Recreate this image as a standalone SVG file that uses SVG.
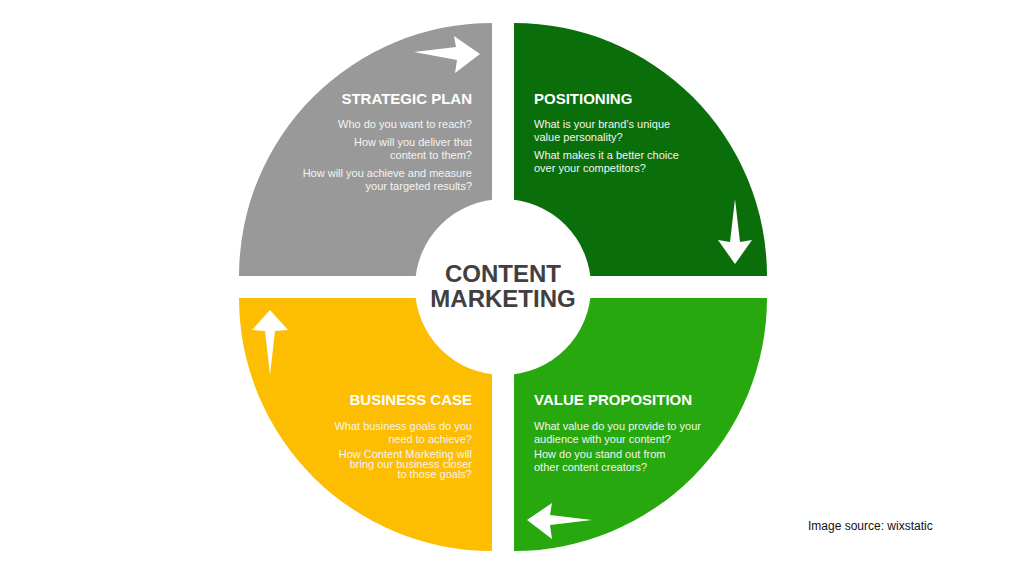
<svg xmlns="http://www.w3.org/2000/svg" width="1024" height="576" viewBox="0 0 1024 576">
<style>
text{font-family:"Liberation Sans",Arial,sans-serif;}
.t{font-size:15px;font-weight:bold;fill:#fff}
.b{font-size:11px;fill:#f4f4f4}
.c{font-size:24px;font-weight:bold;fill:#404040}
.a{fill:#fff}
</style>
<rect width="1024" height="576" fill="#fff"/>
<g id="strategic-plan">
<path d="M492 276 L239 276 A253 253 0 0 1 492 23 Z" fill="#999"/>
<polygon class="a" points="414,52 456,47 454,36 480,54 455,73 457,60"/>
<text class="t" x="472" y="104" text-anchor="end">STRATEGIC PLAN</text>
<g class="b" text-anchor="end"><text x="472" y="128">Who do you want to reach?</text><text x="472" y="146">How will you deliver that</text><text x="472" y="159">content to them?</text><text x="472" y="177">How will you achieve and measure</text><text x="472" y="190">your targeted results?</text></g>
</g>
<g id="positioning">
<path d="M514 276 L514 23 A253 253 0 0 1 767 276 Z" fill="#0a6e0a"/>
<polygon class="a" points="735,199 740,242 752,240 735,264 718,240 730,242"/>
<text class="t" x="534" y="104">POSITIONING</text>
<g class="b"><text x="534" y="128">What is your brand’s unique</text><text x="534" y="141">value personality?</text><text x="534" y="159">What makes it a better choice</text><text x="534" y="172">over your competitors?</text></g>
</g>
<g id="business-case">
<path d="M492 298 L492 551 A253 253 0 0 1 239 298 Z" fill="#fdbd00"/>
<polygon class="a" points="270,375 265,331 252,330 270,310 288,330 275,331"/>
<text class="t" x="472" y="405" text-anchor="end">BUSINESS CASE</text>
<g class="b" text-anchor="end"><text x="472" y="430">What business goals do you</text><text x="472" y="443">need to achieve?</text><text x="472" y="458">How Content Marketing will</text><text x="472" y="468">bring our business closer</text><text x="472" y="478">to those goals?</text></g>
</g>
<g id="value-proposition">
<path d="M514 298 L767 298 A253 253 0 0 1 514 551 Z" fill="#26a80e"/>
<polygon class="a" points="592,520 550,525 552,539 527,520 552,503 550,515"/>
<text class="t" x="534" y="405">VALUE PROPOSITION</text>
<g class="b"><text x="534" y="430">What value do you provide to your</text><text x="534" y="443">audience with your content?</text><text x="534" y="458">How do you stand out from</text><text x="534" y="471">other content creators?</text></g>
</g>
<g id="content-marketing">
<rect x="492" y="0" width="22" height="576" fill="#fff"/>
<rect x="0" y="276" width="1024" height="22" fill="#fff"/>
<circle cx="503" cy="287" r="88" fill="#fff"/>
<text class="c" x="503" y="282" text-anchor="middle">CONTENT</text>
<text class="c" x="503" y="307" text-anchor="middle">MARKETING</text>
</g>
<g id="connectors"/>
<text x="808" y="530" font-size="12" fill="#111">Image source: wixstatic</text>
</svg>
